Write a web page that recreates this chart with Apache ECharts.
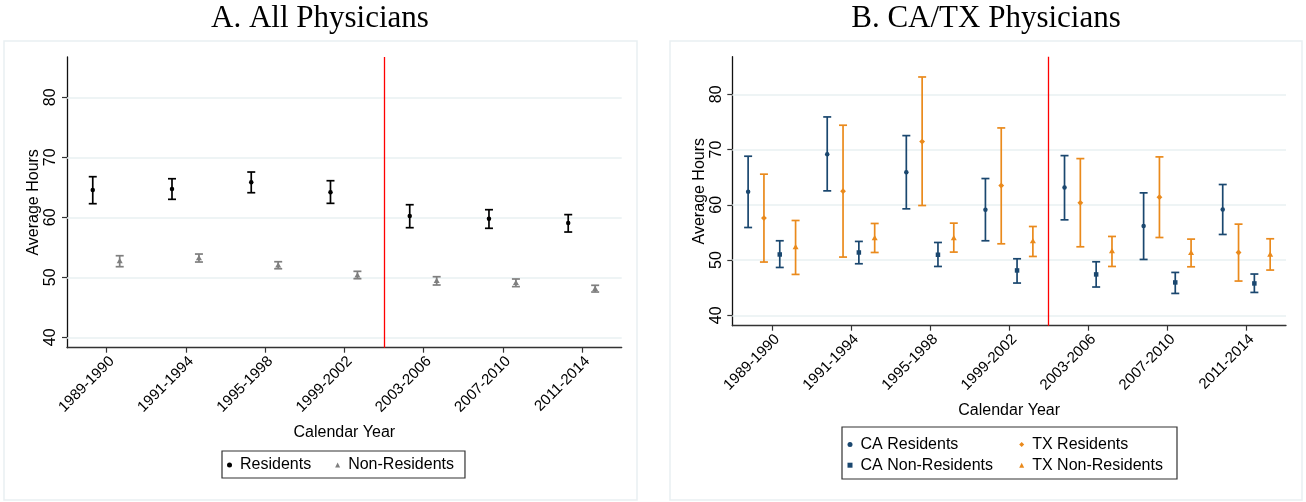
<!DOCTYPE html>
<html><head><meta charset="utf-8">
<script src="https://cdn.jsdelivr.net/npm/echarts@6/dist/echarts.min.js"></script>
<style>html,body{margin:0;padding:0;background:#fff}#c{width:1306px;height:502px}</style>
</head><body><div id="c"></div>
<script>
// ---------- data ----------
const periods = ['1989-1990','1991-1994','1995-1998','1999-2002','2003-2006','2007-2010','2011-2014'];
const xTicks = [1,2,3,4,5,6,7];
const yTicks = [40,50,60,70,80];
const policyBreak = 4.5;

// Panel A: All physicians
const resMean = [64.55,64.72,65.83,64.17,60.22,59.77,59.05];
const resLo   = [62.27,63.00,64.10,62.33,58.27,58.17,57.55];
const resHi   = [66.77,66.43,67.55,66.10,62.10,61.27,60.45];
const nonMean = [52.72,53.22,52.00,50.33,49.43,49.10,48.10];
const nonLo   = [51.77,52.55,51.43,49.77,48.72,48.45,47.55];
const nonHi   = [53.60,53.88,52.60,51.00,50.10,49.72,48.67];

// Panel B: CA / TX physicians
const caResMean = [62.34,69.16,65.90,59.09,63.12,56.14,59.15];
const caResLo   = [55.89,62.52,59.27,53.49,57.28,50.11,54.63];
const caResHi   = [68.79,75.90,72.52,64.75,68.90,62.16,63.67];
const txResMean = [57.59,62.47,71.44,63.48,60.35,61.38,51.37];
const txResLo   = [49.64,50.54,59.87,52.94,52.40,54.08,46.20];
const txResHi   = [65.54,74.40,83.13,73.91,68.36,68.67,56.50];
const caNonMean = [51.01,51.37,50.96,48.12,47.40,45.95,45.77];
const caNonLo   = [48.66,49.33,48.84,45.84,45.12,43.96,44.14];
const caNonHi   = [53.49,53.37,53.18,50.23,49.69,47.76,47.47];
const txNonMean = [52.35,53.97,53.97,53.43,51.62,51.31,51.01];
const txNonLo   = [47.40,51.37,51.44,50.65,48.84,48.78,48.19];
const txNonHi   = [57.16,56.62,56.68,56.07,54.27,53.79,53.85];

// ---------- styling ----------
const SANS = 'Liberation Sans';
const GRID_C = '#e8f0f2';
const NAVY = '#1a476f', ORANGE = '#ea8a1c', GRAY = '#7f7f7f', BLACK = '#000000';

function markerShape(shape, p, color, s) {
  const [x, y] = p;
  if (shape === 'circle') return {type:'circle', shape:{cx:x, cy:y, r:s*0.5}, style:{fill:color}};
  if (shape === 'square') return {type:'rect', shape:{x:x-s*0.5, y:y-s*0.5, width:s, height:s}, style:{fill:color}};
  if (shape === 'diamond') return {type:'polygon', shape:{points:[[x,y-s*0.65],[x+s*0.65,y],[x,y+s*0.65],[x-s*0.65,y]]}, style:{fill:color}};
  return {type:'polygon', shape:{points:[[x,y-s*0.6],[x+s*0.6,y+s*0.45],[x-s*0.6,y+s*0.45]]}, style:{fill:color}};
}

function errSeries(name, gi, mean, lo, hi, offset, color, shape, msize) {
  return {
    type:'custom', name, xAxisIndex:gi, yAxisIndex:gi, z:5,
    itemStyle:{color},
    encode:{x:0, y:[1,2,3]},
    data: mean.map((m,i)=>[xTicks[i]+offset, m, lo[i], hi[i]]),
    renderItem(params, api) {
      const x = api.value(0);
      const pm = api.coord([x, api.value(1)]);
      const pl = api.coord([x, api.value(2)]);
      const ph = api.coord([x, api.value(3)]);
      const cw = 4;
      const st = {stroke:color, lineWidth:1.7};
      return {type:'group', children:[
        {type:'line', shape:{x1:pl[0],y1:pl[1],x2:ph[0],y2:ph[1]}, style:st},
        {type:'line', shape:{x1:pl[0]-cw,y1:pl[1],x2:pl[0]+cw,y2:pl[1]}, style:st},
        {type:'line', shape:{x1:ph[0]-cw,y1:ph[1],x2:ph[0]+cw,y2:ph[1]}, style:st},
        markerShape(shape, pm, color, msize)
      ]};
    }
  };
}

function refSeries(gi) {
  return {
    type:'line', name:'ref'+gi, xAxisIndex:gi, yAxisIndex:gi, data:[], z:1,
    markLine:{silent:true, symbol:'none', label:{show:false}, animation:false,
      data: yTicks.map(v=>({yAxis:v, lineStyle:{color:GRID_C, width:1.5, type:'solid'}}))
        .concat([{xAxis:policyBreak, lineStyle:{color:'#ff0000', width:1.3, type:'solid'}}])}
  };
}

function xAxisDef(gi) {
  return {
    gridIndex:gi, type:'value', min:0.5, max:7.5,
    axisLine:{show:true, onZero:false, lineStyle:{color:'#333', width:1.3}},
    axisTick:{show:true, customValues:xTicks, length:5, lineStyle:{color:'#333', width:1.2}},
    axisLabel:{customValues:xTicks, rotate:45, margin:6, verticalAlign:'top', formatter:v=>periods[Math.round(v)-1],
      fontFamily:SANS, fontSize:15, color:'#000'},
    splitLine:{show:false},
    name:'Calendar Year', nameLocation:'middle', nameGap:77,
    nameTextStyle:{fontFamily:SANS, fontSize:16, color:'#000'}
  };
}
function yAxisDef(gi, min, max) {
  return {
    gridIndex:gi, type:'value', min, max,
    axisLine:{show:true, lineStyle:{color:'#111', width:1.3}},
    axisTick:{show:true, customValues:yTicks, length:5, lineStyle:{color:'#333', width:1.2}},
    axisLabel:{customValues:yTicks, rotate:90, margin:8, fontFamily:SANS, fontSize:16, color:'#000'},
    splitLine:{show:false},
    name:'Average Hours', nameLocation:'middle', nameRotate:90, nameGap:25,
    nameTextStyle:{fontFamily:SANS, fontSize:16, color:'#000'}
  };
}

const legendText = {fontFamily:SANS, fontSize:16, color:'#000', padding:[0,0,0,3]};

const chart = echarts.init(document.getElementById('c'), null, {renderer:'canvas'});
chart.setOption({
  animation:false,
  backgroundColor:'#ffffff',
  title:[
    {text:'A. All Physicians', left:320, top:3, textAlign:'center', padding:0,
     textStyle:{fontFamily:'Liberation Serif', fontSize:31, fontWeight:'normal', color:'#000'}},
    {text:'B. CA/TX Physicians', left:986, top:3, textAlign:'center', padding:0,
     textStyle:{fontFamily:'Liberation Serif', fontSize:31, fontWeight:'normal', color:'#000'}}
  ],
  graphic:[
    {type:'rect', silent:true, z:-10, shape:{x:4, y:41, width:633, height:459}, style:{fill:'#fff', stroke:'#e9f0f2', lineWidth:1.5}},
    {type:'rect', silent:true, z:-10, shape:{x:670, y:41, width:632, height:459}, style:{fill:'#fff', stroke:'#e9f0f2', lineWidth:1.5}},
    {type:'rect', silent:true, z:10, shape:{x:842, y:427, width:335, height:52}, style:{fill:'none', stroke:'#333', lineWidth:1.2}}
  ],
  grid:[
    {left:67, top:57, width:554.7, height:290.7},
    {left:732.3, top:56.7, width:553.7, height:269}
  ],
  xAxis:[xAxisDef(0), xAxisDef(1)],
  yAxis:[yAxisDef(0, 38.27, 86.72), yAxisDef(1, 38.12, 86.8)],
  legend:[
    {left:222, top:451, orient:'horizontal', padding:[6,11,5,5], itemGap:24, itemWidth:5, itemHeight:5,
     borderColor:'#333', borderWidth:1.2, textStyle:legendText, selectedMode:false,
     data:[{name:'Residents', icon:'circle'},{name:'Non-Residents', icon:'triangle'}]},
    {left:847.5, top:436.5, orient:'vertical', padding:0, itemGap:4.7, itemWidth:5, itemHeight:5,
     textStyle:legendText, selectedMode:false,
     data:[{name:'CA Residents', icon:'circle'},{name:'CA Non-Residents', icon:'rect'}]},
    {left:1019.2, top:436.5, orient:'vertical', padding:0, itemGap:4.7, itemWidth:5, itemHeight:5,
     textStyle:legendText, selectedMode:false,
     data:[{name:'TX Residents', icon:'diamond'},{name:'TX Non-Residents', icon:'triangle'}]}
  ],
  series:[
    refSeries(0), refSeries(1),
    errSeries('Residents', 0, resMean, resLo, resHi, -0.175, BLACK, 'circle', 4.5),
    errSeries('Non-Residents', 0, nonMean, nonLo, nonHi, 0.165, GRAY, 'triangle', 5),
    errSeries('CA Residents', 1, caResMean, caResLo, caResHi, -0.3, NAVY, 'circle', 4.5),
    errSeries('TX Residents', 1, txResMean, txResLo, txResHi, -0.1, ORANGE, 'diamond', 4.5),
    errSeries('CA Non-Residents', 1, caNonMean, caNonLo, caNonHi, 0.1, NAVY, 'square', 4.5),
    errSeries('TX Non-Residents', 1, txNonMean, txNonLo, txNonHi, 0.3, ORANGE, 'triangle', 5)
  ]
});
</script></body></html>
